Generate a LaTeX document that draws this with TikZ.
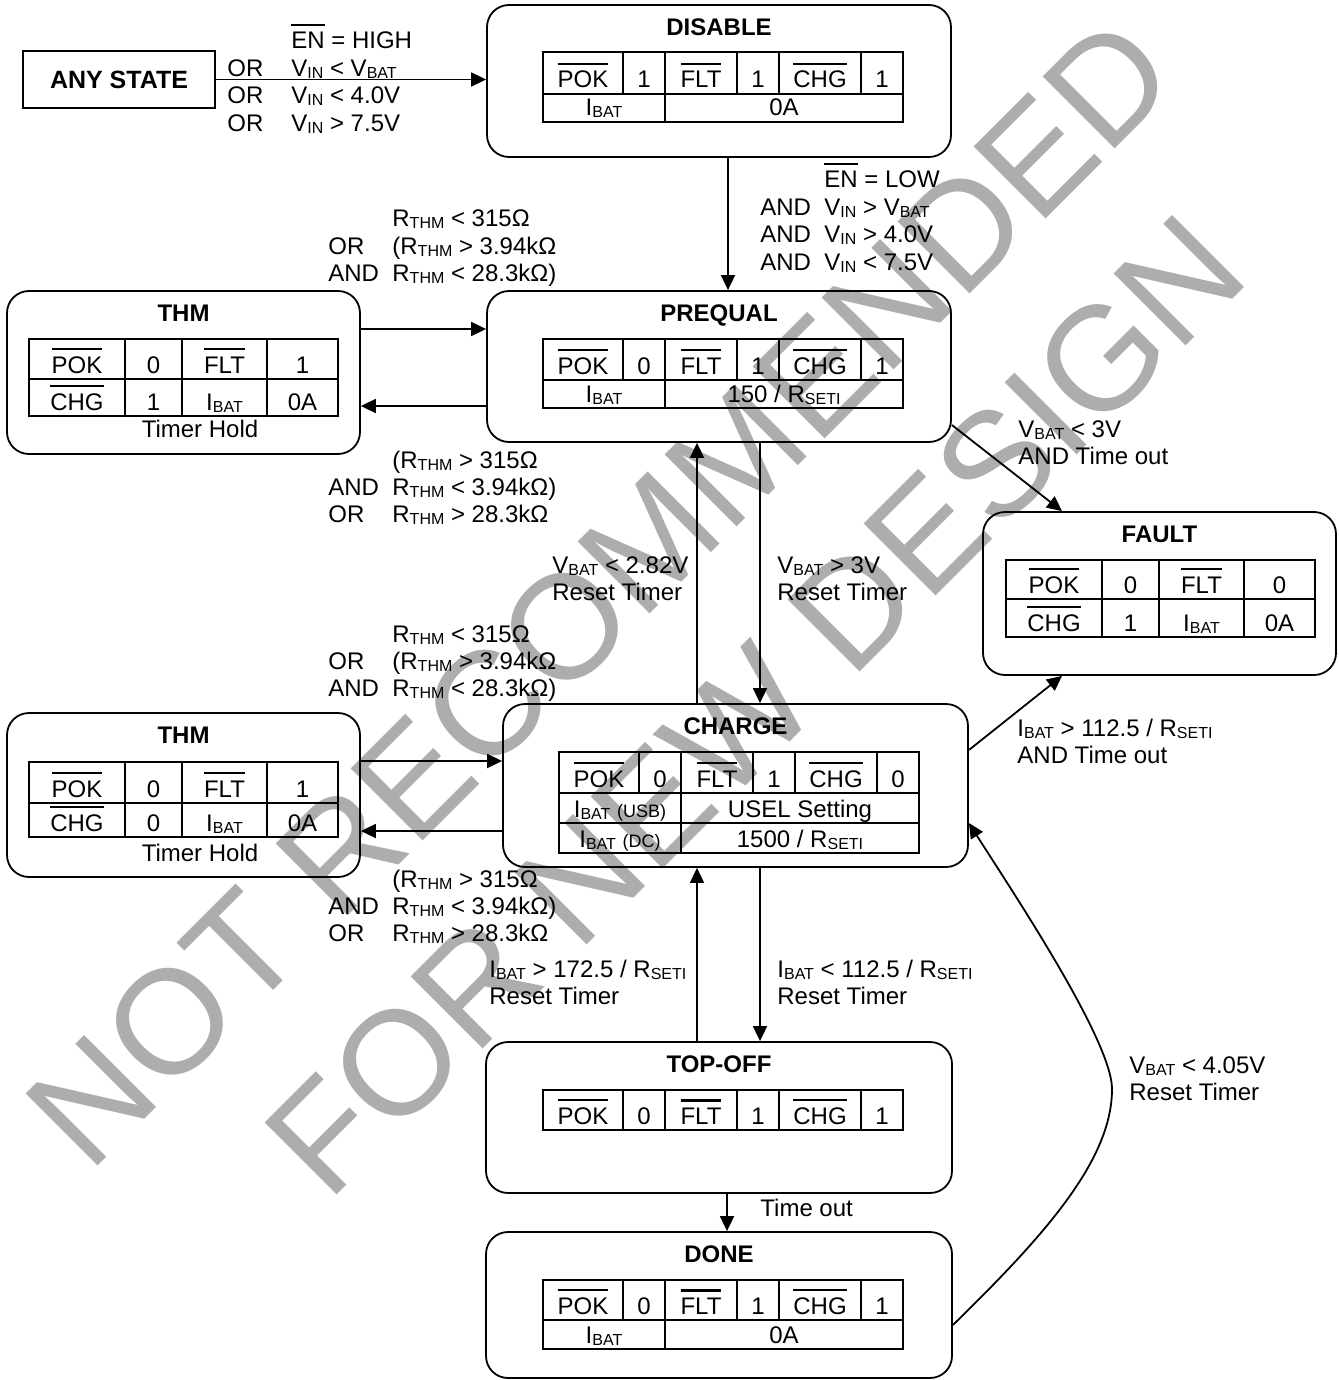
\documentclass[tikz,border=0pt]{standalone}
\usepackage{fontspec}
\setmainfont{Liberation Sans}
\usetikzlibrary{arrows.meta, calc}

% overlined signal name, subscript, condition blocks
\newcommand{\ovl}[1]{\vbox{\hrule height 1.3pt\kern 3pt\hbox{#1}}}
\newcommand{\low}[1]{\raisebox{-1pt}{\fontsize{8}{9}\selectfont #1}}
\newcommand{\cond}[1]{\begin{tabular}[t]{@{}p{32pt}@{}l@{}}#1\end{tabular}}
\newcommand{\two}[1]{\begin{tabular}[t]{@{}l@{}}#1\end{tabular}}

% POK / FLT / CHG row: name, x, top, bottom, pok, flt, chg
\newcommand{\flagrow}[7]{%
  \draw[grid] (#2,#3) rectangle ({#2+360},#4);
  \foreach \dx in {80,194,318} \draw[grid] ({#2+\dx},#3) -- ({#2+\dx},#4);
  \foreach \dx in {122,236} \draw[grid, line width=1.4pt] ({#2+\dx},#3) -- ({#2+\dx},#4);
  \node[cell] (#1-1) at ({#2+40},#4) {\ovl{POK}};
  \node[cell] (#1-2) at ({#2+101},#4) {#5};
  \node[cell] (#1-3) at ({#2+158},#4) {\ovl{FLT}};
  \node[cell] (#1-4) at ({#2+215},#4) {#6};
  \node[cell] (#1-5) at ({#2+277},#4) {\ovl{CHG}};
  \node[cell] (#1-6) at ({#2+339},#4) {#7};
}
% current row: name, x, top, bottom, label, value
\newcommand{\ibatrow}[6]{%
  \draw[grid] (#2,#3) rectangle ({#2+360},#4);
  \draw[grid, line width=1.4pt] ({#2+122},#3) -- ({#2+122},#4);
  \node[cell] (#1-1) at ({#2+61},#4) {#5};
  \node[cell] (#1-2) at ({#2+241},#4) {#6};
}
% four cell row: name, x, top, bottom, a, b, c, d
\newcommand{\quadrow}[8]{%
  \draw[grid] (#2,#3) rectangle ({#2+309},#4);
  \foreach \dx in {96,238} \draw[grid] ({#2+\dx},#3) -- ({#2+\dx},#4);
  \draw[grid, line width=1.4pt] ({#2+153},#3) -- ({#2+153},#4);
  \node[cell] (#1-1) at ({#2+48},#4) {#5};
  \node[cell] (#1-2) at ({#2+124.5},#4) {#6};
  \node[cell] (#1-3) at ({#2+195.5},#4) {#7};
  \node[cell] (#1-4) at ({#2+273.5},#4) {#8};
}

\begin{document}
\begin{tikzpicture}[
    x=0.5pt, y=-0.5pt,
    state/.style={draw, rounded corners=11pt, line width=0.9pt, inner sep=0pt},
    ttl/.style={font=\fontsize{12}{14}\selectfont\bfseries, anchor=base, inner sep=0pt},
    grid/.style={line width=0.9pt},
    cell/.style={font=\fontsize{12}{14}\selectfont, anchor=base, inner sep=0pt, yshift=3pt},
    lbl/.style={font=\fontsize{12}{13.7}\selectfont, anchor=base west, inner sep=0pt},
    arr/.style={line width=0.9pt, -{Triangle[length=7.5pt,width=7pt]}},
    wm/.style={font=\fontsize{74}{80}\selectfont, text=black!32, inner sep=0pt, rotate=45}
  ]
  \useasboundingbox (0,0) rectangle (1338,1380);

  % ---- watermark ----
  \node[wm] (wm1) at (600,592) {NOT RECOMMENDED};
  \node[wm] (wm2) at (755,705) {FOR NEW DESIGN};

  % ---- states ----
  \node[draw, line width=0.9pt, minimum width=96pt, minimum height=28.5pt, inner sep=0pt,
    font=\fontsize{12.5}{14}\selectfont\bfseries] (any) at (119,79.5) {ANY STATE};
  \node[state, minimum width=232pt, minimum height=76pt]   (disable) at (719,81)     {};
  \node[state, minimum width=232pt, minimum height=75.5pt] (prequal) at (719,366.5)  {};
  \node[state, minimum width=176.5pt, minimum height=81.5pt] (thm1)  at (183.5,372.5) {};
  \node[state, minimum width=176.5pt, minimum height=81.5pt] (fault) at (1159.5,593.5) {};
  \node[state, minimum width=176.5pt, minimum height=82pt] (thm2)    at (183.5,795)  {};
  \node[state, minimum width=232.5pt, minimum height=81.5pt] (charge) at (735.5,785.5) {};
  \node[state, minimum width=233pt, minimum height=75.5pt] (topoff)  at (719,1117.5) {};
  \node[state, minimum width=233pt, minimum height=73pt]   (done)    at (719,1305)   {};

  \node[ttl] (disable-t) at ($(disable.north)+(0,31)$) {DISABLE};
  \node[ttl] (prequal-t) at ($(prequal.north)+(0,31)$) {PREQUAL};
  \node[ttl] (thm1-t)    at ($(thm1.north)+(0,31)$)    {THM};
  \node[ttl] (fault-t)   at ($(fault.north)+(0,31)$)   {FAULT};
  \node[ttl] (thm2-t)    at ($(thm2.north)+(0,31)$)    {THM};
  \node[ttl] (charge-t)  at ($(charge.north)+(0,31)$)  {CHARGE};
  \node[ttl] (topoff-t)  at ($(topoff.north)+(0,31)$)  {TOP-OFF};
  \node[ttl] (done-t)    at ($(done.north)+(0,31)$)    {DONE};

  % ---- tables ----
  \flagrow{dis}{543}{52}{94}{1}{1}{1}
  \ibatrow{dis-i}{543}{94}{122}{I\low{BAT}}{0A}
  \flagrow{pre}{543}{339}{380}{0}{1}{1}
  \ibatrow{pre-i}{543}{380}{408}{I\low{BAT}}{150 / R\low{SETI}}
  \quadrow{t1a}{29}{339}{379}{\ovl{POK}}{0}{\ovl{FLT}}{1}
  \quadrow{t1b}{29}{379}{416}{\ovl{CHG}}{1}{I\low{BAT}}{0A}
  \node[lbl, anchor=base] (t1-hold) at (200,437) {Timer Hold};
  \quadrow{fa}{1006}{560}{599}{\ovl{POK}}{0}{\ovl{FLT}}{0}
  \quadrow{fb}{1006}{599}{637}{\ovl{CHG}}{1}{I\low{BAT}}{0A}
  \quadrow{t2a}{29}{762}{803}{\ovl{POK}}{0}{\ovl{FLT}}{1}
  \quadrow{t2b}{29}{803}{837}{\ovl{CHG}}{0}{I\low{BAT}}{0A}
  \node[lbl, anchor=base] (t2-hold) at (200,861) {Timer Hold};
  \flagrow{chg}{559}{752}{793}{0}{1}{0}
  \ibatrow{chg-u}{559}{793}{823}{I\low{BAT} {\fontsize{9}{10}\selectfont(USB)}}{USEL Setting}
  \ibatrow{chg-d}{559}{823}{853}{I\low{BAT} {\fontsize{9}{10}\selectfont(DC)}}{1500 / R\low{SETI}}
  \flagrow{top}{543}{1090}{1130}{0}{1}{1}
  \flagrow{don}{543}{1280}{1320}{0}{1}{1}
  \ibatrow{don-i}{543}{1320}{1349}{I\low{BAT}}{0A}

  % ---- transitions ----
  \draw[arr] (any.east) -- (any.east -| disable.west);
  \draw[arr] ($(disable.south)+(9,0)$) -- ($(prequal.north)+(9,0)$);
  \draw[arr] ($(thm1.east)+(0,-43.5)$) -- ($(prequal.west)+(0,-37.5)$);
  \draw[arr] ($(prequal.west)+(0,39.5)$) -- ($(thm1.east)+(0,33.5)$);
  \draw[arr] ($(charge.north)+(-38.5,0)$) -- ($(prequal.south)+(-22,0)$);
  \draw[arr] ($(prequal.south)+(41,0)$) -- ($(charge.north)+(24.5,0)$);
  \draw[arr] ($(prequal.east)+(0,58.5)$) -- ($(fault.north)+(-97.5,0)$);
  \draw[arr] ($(charge.east)+(0,-35.5)$) -- ($(fault.south)+(-97.5,0)$);
  \draw[arr] ($(thm2.east)+(0,-34)$) -- ($(charge.west)+(0,-24.5)$);
  \draw[arr] ($(charge.west)+(0,45.5)$) -- ($(thm2.east)+(0,36)$);
  \draw[arr] ($(topoff.north)+(-22,0)$) -- ($(charge.south)+(-38.5,0)$);
  \draw[arr] ($(charge.south)+(24.5,0)$) -- ($(topoff.north)+(41,0)$);
  \draw[arr] ($(topoff.south)+(8,0)$) -- ($(done.north)+(8,0)$);
  \draw[arr] ($(done.east)+(0,20)$) .. controls (1045,1235) and (1112,1160) .. (1112,1089)
    .. controls (1112,1040) and (1010,888) .. ($(charge.east)+(0,37.5)$);

  % ---- conditions ----
  \node[lbl] (any-c) at (227,49) {\cond{& \ovl{EN} = HIGH\\ OR & V\low{IN} < V\low{BAT}\\ OR & V\low{IN} < 4.0V\\ OR & V\low{IN} > 7.5V}};
  \node[lbl] (en-c) at (760,188) {\cond{& \ovl{EN} = LOW\\ AND & V\low{IN} > V\low{BAT}\\ AND & V\low{IN} > 4.0V\\ AND & V\low{IN} < 7.5V}};
  \node[lbl] (t1-in) at (328,227) {\cond{& R\low{THM} < 315Ω\\ OR & (R\low{THM} > 3.94kΩ\\ AND & R\low{THM} < 28.3kΩ)}};
  \node[lbl] (t1-out) at (328,468) {\cond{& (R\low{THM} > 315Ω\\ AND & R\low{THM} < 3.94kΩ)\\ OR & R\low{THM} > 28.3kΩ}};
  \node[lbl] (t2-in) at (328,642) {\cond{& R\low{THM} < 315Ω\\ OR & (R\low{THM} > 3.94kΩ\\ AND & R\low{THM} < 28.3kΩ)}};
  \node[lbl] (t2-out) at (328,887) {\cond{& (R\low{THM} > 315Ω\\ AND & R\low{THM} < 3.94kΩ)\\ OR & R\low{THM} > 28.3kΩ}};
  \node[lbl] (pc-c) at (552,573) {\two{V\low{BAT} < 2.82V\\ Reset Timer}};
  \node[lbl] (cp-c) at (777,573) {\two{V\low{BAT} > 3V\\ Reset Timer}};
  \node[lbl] (pf-c) at (1018,437) {\two{V\low{BAT} < 3V\\ AND Time out}};
  \node[lbl] (cf-c) at (1017,736) {\two{I\low{BAT} > 112.5 / R\low{SETI}\\ AND Time out}};
  \node[lbl] (tc-c) at (489,977) {\two{I\low{BAT} > 172.5 / R\low{SETI}\\ Reset Timer}};
  \node[lbl] (ct-c) at (777,977) {\two{I\low{BAT} < 112.5 / R\low{SETI}\\ Reset Timer}};
  \node[lbl] (to-c) at (760,1216) {Time out};
  \node[lbl] (dc-c) at (1129,1073) {\two{V\low{BAT} < 4.05V\\ Reset Timer}};
\end{tikzpicture}
\end{document}
